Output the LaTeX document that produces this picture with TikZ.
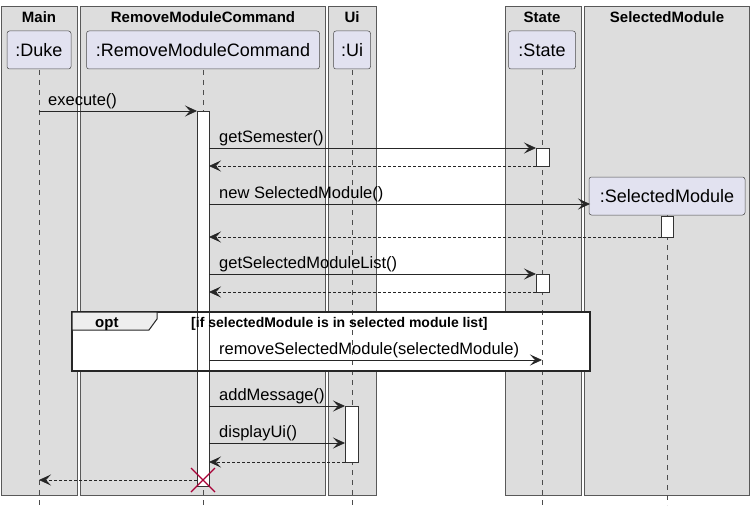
\documentclass[tikz,border=0pt]{standalone}
\usepackage{fontspec}
\setmainfont{Liberation Sans}
\usetikzlibrary{arrows.meta}
\definecolor{boxg}{HTML}{DDDDDD}
\definecolor{partf}{HTML}{E2E2F0}
\definecolor{xred}{HTML}{A80036}
\begin{document}
\begin{tikzpicture}[x=1pt,y=-1pt,
 grp/.style={draw=black!65,fill=boxg,line width=0.6pt},
 part/.style={draw=black!70,fill=partf,rounded corners=2.5pt,line width=0.5pt,font=\fontsize{18}{20}\selectfont,inner sep=0pt},
 life/.style={draw=black!70,dash pattern=on 5pt off 5pt,line width=0.5pt},
 act/.style={draw=black!80,fill=white,line width=0.6pt},
 msg/.style={draw=black!85,line width=0.8pt,-{Stealth[length=12pt,width=11pt,inset=5pt]}},
 ret/.style={msg,dash pattern=on 3pt off 2pt},
 lbl/.style={font=\fontsize{16.5}{18}\selectfont,anchor=base west,inner sep=0pt},
 ttl/.style={font=\fontsize{15}{17}\bfseries\selectfont,anchor=base,inner sep=0pt}]
\useasboundingbox (0,0) rectangle (755,511);
% groups
\draw[grp] (1,6) rectangle (77,495);
\draw[grp] (80,6) rectangle (325,495);
\draw[grp] (328,6) rectangle (376,495);
\draw[grp] (505,6) rectangle (581,495);
\draw[grp] (584,6) rectangle (749,495);
\node[ttl] (t1) at (39,23) {Main};
\node[ttl] (t2) at (203,23) {RemoveModuleCommand};
\node[ttl] (t3) at (352,23) {Ui};
\node[ttl] (t4) at (542,23) {State};
\node[ttl] (t5) at (667,23) {SelectedModule};
% opt frame background
\fill[white] (72,312) rectangle (590,371);
% lifelines
\coordinate (ld) at (39,505); \coordinate (lr) at (203,505); \coordinate (lu) at (352,505);
\coordinate (ls) at (542,505); \coordinate (lm) at (667,505);
\path[life] (39,70) -- (ld);
\path[life] (203,70) -- (lr);
\path[life] (352,70) -- (lu);
\path[life] (542,70) -- (ls);
\path[life] (667,215) -- (lm);
% participants
\node[part,minimum width=64pt,minimum height=38pt] (duke) at (39,50) {:Duke};
\node[part,minimum width=233pt,minimum height=38pt] (rmc) at (203,50) {:RemoveModuleCommand};
\node[part,minimum width=37pt,minimum height=38pt] (ui) at (352,50) {:Ui};
\node[part,minimum width=67pt,minimum height=38pt] (st) at (542,50) {:State};
\node[part,minimum width=156pt,minimum height=38pt] (sm) at (667,196) {:SelectedModule};
% activations
\draw[act] (197,111) rectangle (209,486);
\draw[act] (536,148) rectangle (549,166);
\draw[act] (536,274) rectangle (549,292);
\draw[act] (661,216) rectangle (673,237);
\draw[act] (345,406) rectangle (358,462);
% messages
\coordinate (a1) at (39,111); \coordinate (a2) at (197,111);
\draw[msg] (a1) -- (a2); \node[lbl] (m1) at (48,105) {execute()};
\coordinate (b1) at (209,148); \coordinate (b2) at (536,148);
\draw[msg] (b1) -- (b2); \node[lbl] (m2) at (219,142) {getSemester()};
\coordinate (c1) at (536,166); \coordinate (c2) at (209,166);
\draw[ret] (c1) -- (c2);
\coordinate (d1) at (209,204); \coordinate (d2) at (590,204);
\draw[msg] (d1) -- (d2); \node[lbl] (m3) at (219,198) {new SelectedModule()};
\coordinate (e1) at (661,237); \coordinate (e2) at (209,237);
\draw[ret] (e1) -- (e2);
\coordinate (f1) at (209,274); \coordinate (f2) at (536,274);
\draw[msg] (f1) -- (f2); \node[lbl] (m4) at (219,268) {getSelectedModuleList()};
\coordinate (g1) at (536,292); \coordinate (g2) at (209,292);
\draw[ret] (g1) -- (g2);
% opt frame
\draw[line width=1.5pt,black!85] (72,312) rectangle (590,371);
\draw[line width=1pt,black!85,fill=boxg!50] (72,312) -- (157,312) -- (157,319) -- (149,330) -- (72,330) -- cycle;
\node[ttl,anchor=base west] (o1) at (95,327) {opt};
\node[ttl,anchor=base west,font=\fontsize{14}{16}\bfseries\selectfont] (o2) at (191,327) {[if selectedModule is in selected module list]};
\coordinate (h1) at (209,360); \coordinate (h2) at (542,360);
\draw[msg] (h1) -- (h2); \node[lbl] (m5) at (219,354) {removeSelectedModule(selectedModule)};
\coordinate (i1) at (209,406); \coordinate (i2) at (345,406);
\draw[msg] (i1) -- (i2); \node[lbl] (m6) at (219,400) {addMessage()};
\coordinate (j1) at (209,443); \coordinate (j2) at (345,443);
\draw[msg] (j1) -- (j2); \node[lbl] (m7) at (219,437) {displayUi()};
\coordinate (k1) at (345,462); \coordinate (k2) at (209,462);
\draw[ret] (k1) -- (k2);
\coordinate (l1) at (197,480); \coordinate (l2) at (39,480);
\draw[ret] (l1) -- (l2);
\draw[xred,line width=1.3pt] (191,468) -- (215,492) (215,468) -- (191,492);
\end{tikzpicture}
\end{document}
